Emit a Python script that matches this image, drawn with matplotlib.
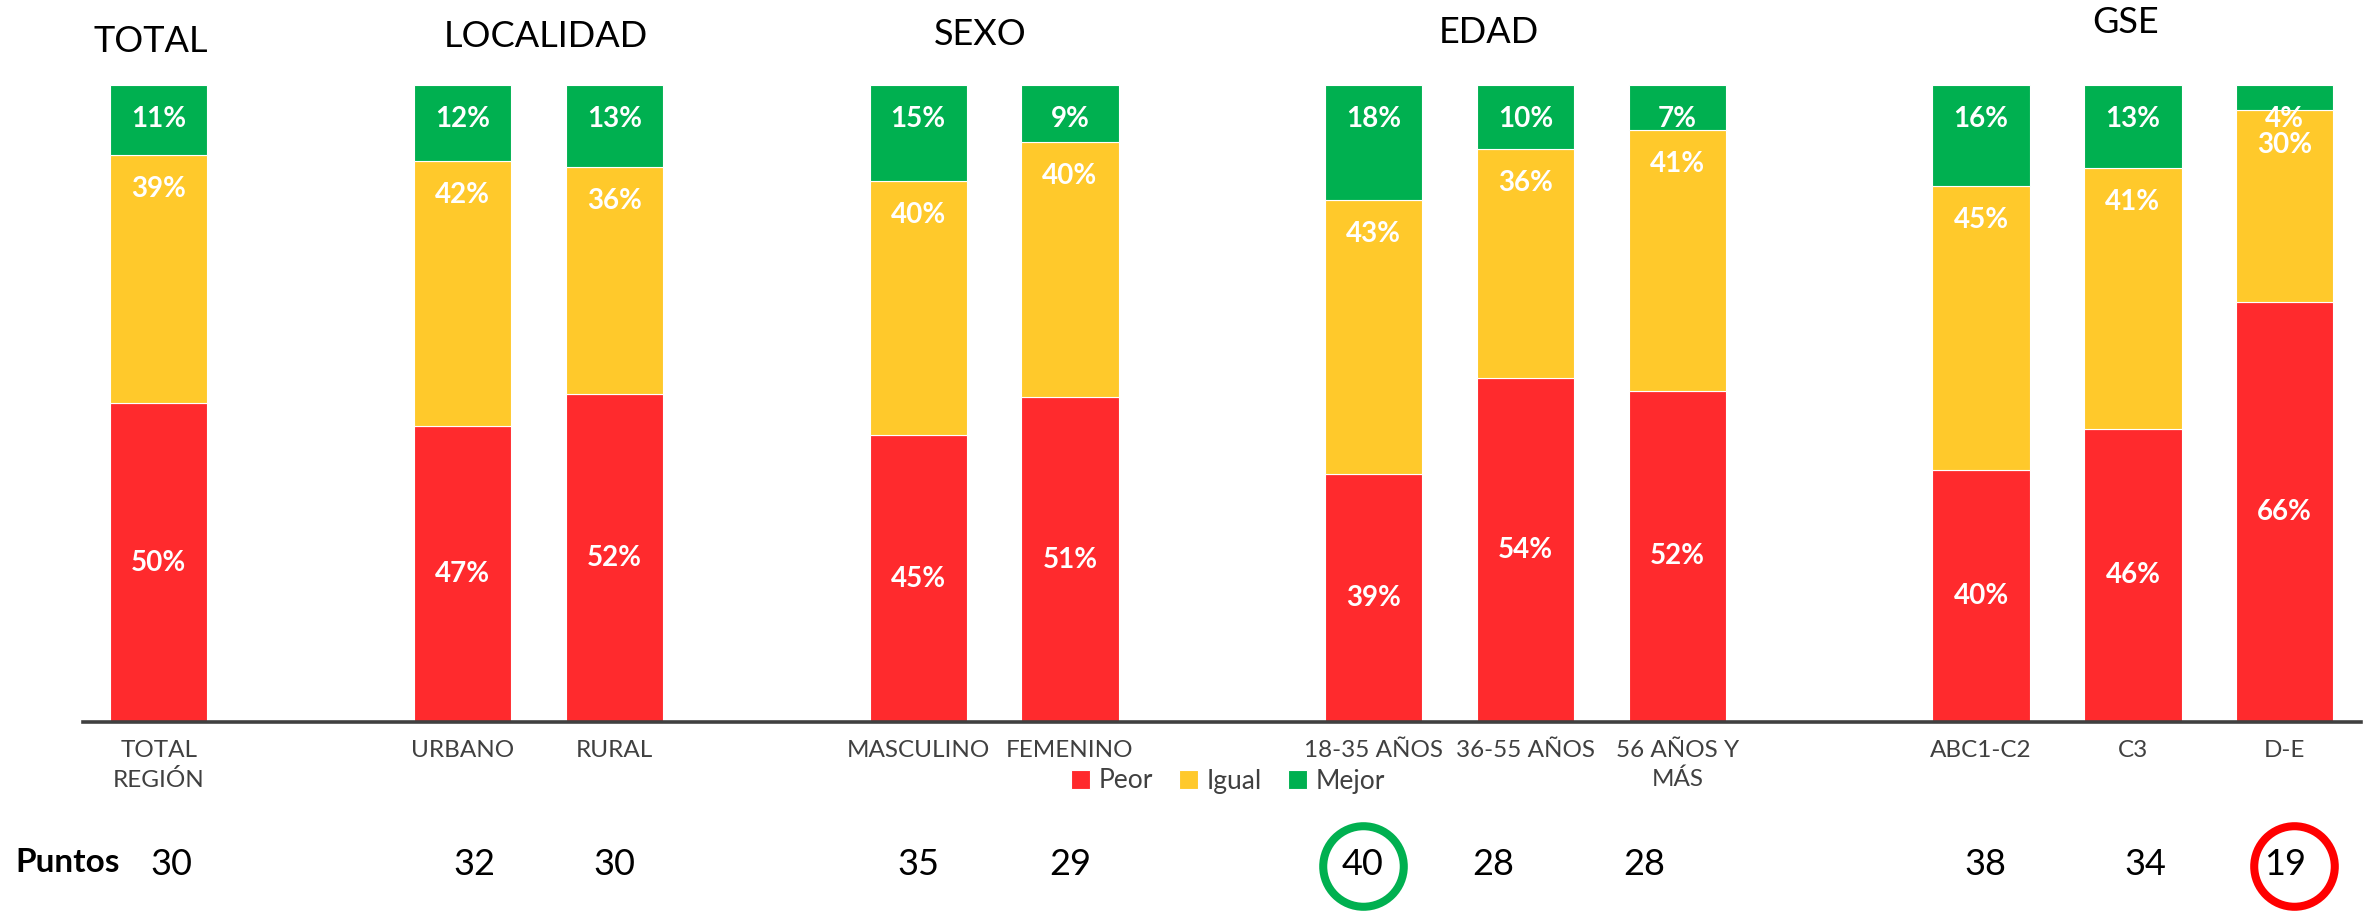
import numpy as np
import matplotlib.pyplot as plt
from matplotlib.transforms import blended_transform_factory

plt.rcParams['font.family'] = ['Lato', 'DejaVu Sans']

COLORS = {
    "Peor": "#FF2A2D",    # red
    "Igual": "#FFC92B",   # yellow
    "Mejor": "#00B050",   # green
}

groups = ["TOTAL", "LOCALIDAD", "SEXO", "EDAD", "GSE"]
group_sizes = [1, 2, 2, 3, 3]

categories = ["TOTAL\nREGIÓN", "URBANO", "RURAL", "MASCULINO", "FEMENINO",
              "18-35 AÑOS", "36-55 AÑOS", "56 AÑOS Y\nMÁS", "ABC1-C2", "C3", "D-E"]
peor = [50, 47, 52, 45, 51, 39, 54, 52, 40, 46, 66]
igual = [39, 42, 36, 40, 40, 43, 36, 41, 45, 41, 30]
mejor = [11, 12, 13, 15, 9, 18, 10, 7, 16, 13, 4]
puntos = [30, 32, 30, 35, 29, 40, 28, 28, 38, 34, 19]

# hand placed bits of the original slide (x nudges in bar slots, y in figure fraction)
title_nudge = [-0.05, 0.05, -0.09, -0.24, -0.05]
title_y = [0.954, 0.960, 0.962, 0.964, 0.975]
puntos_nudge = [0.08, 0.08, 0.0, 0.0, 0.0, -0.07, -0.21, -0.22, 0.03, 0.08, 0.0]

# one empty slot between groups
xs = []
pos = 0
centers = []
for n in group_sizes:
    xs.extend(range(pos, pos + n))
    centers.append(pos + (n - 1) / 2)
    pos += n + 1
xs = np.array(xs, dtype=float)

fig = plt.figure(figsize=(23.69, 9.11), dpi=100)
ax = fig.add_axes([0.035, 0.2075, 0.9615, 0.6992])

series = {"Peor": np.array(peor), "Igual": np.array(igual), "Mejor": np.array(mejor)}
totals = sum(series.values())  # 100% stacked
bottom = np.zeros(len(xs))
for name, vals in series.items():
    share = vals / totals
    ax.bar(xs, share, 0.64, bottom=bottom, color=COLORS[name],
           edgecolor="white", linewidth=0.8, label=name)
    for x, b, h, v in zip(xs, bottom, share, vals):
        if name == "Peor":
            # centered label
            ax.text(x, b + h / 2, f"{v}%", ha="center", va="center",
                    color="white", fontsize=20, fontweight="bold")
        else:
            # inside end label
            ax.annotate(f"{v}%", (x, b + h), xytext=(0, -24.5),
                        textcoords="offset points", ha="center", va="center",
                        color="white", fontsize=20, fontweight="bold")
    bottom += share

ax.set_xlim(-0.5, 14.5)
ax.set_ylim(0, 1)
ax.set_yticks([])
for side in ["top", "right", "left"]:
    ax.spines[side].set_visible(False)
ax.spines["bottom"].set_linewidth(2.6)
ax.spines["bottom"].set_color("#404040")

ax.set_xticks(xs)
ax.set_xticklabels(categories)
ax.tick_params(axis="x", length=0, pad=13, labelsize=17.5, labelcolor="#404040")
for lab in ax.get_xticklabels():
    lab.set_linespacing(1.45)

ax.legend(loc="center", bbox_to_anchor=(1228 / 2369, 1 - 781 / 911),
          bbox_transform=fig.transFigure, ncol=3, frameon=False, fontsize=19,
          handlelength=0.72, handleheight=0.72, handletextpad=0.32,
          columnspacing=1.0, labelcolor="#404040")

trans = blended_transform_factory(ax.transData, fig.transFigure)

# group titles
for g, c, dx, y in zip(groups, centers, title_nudge, title_y):
    ax.text(c + dx, y, g, transform=trans, ha="center", va="center",
            fontsize=26, color="black")

# Puntos row
fig.text(15 / 2369, 1 - 863 / 911, "Puntos", ha="left", va="center",
         fontsize=24, fontweight="bold", color="black")
for x, dx, p in zip(xs, puntos_nudge, puntos):
    ax.text(x + dx, 0.0505, str(p), transform=trans, ha="center",
            va="center", fontsize=26, color="black")

# circle the best and the worst score
i_max = int(np.argmax(puntos))
i_min = int(np.argmin(puntos))
for i, col, dx in [(i_max, "#00B050", 0.0), (i_min, "#FF0000", 0.06)]:
    ax.plot([xs[i] + puntos_nudge[i] + dx], [0.0494], marker="o", ms=58,
            mfc="none", mec=col, mew=5.8, transform=trans, clip_on=False)

fig.savefig("out.png", dpi=100)
plt.close(fig)
